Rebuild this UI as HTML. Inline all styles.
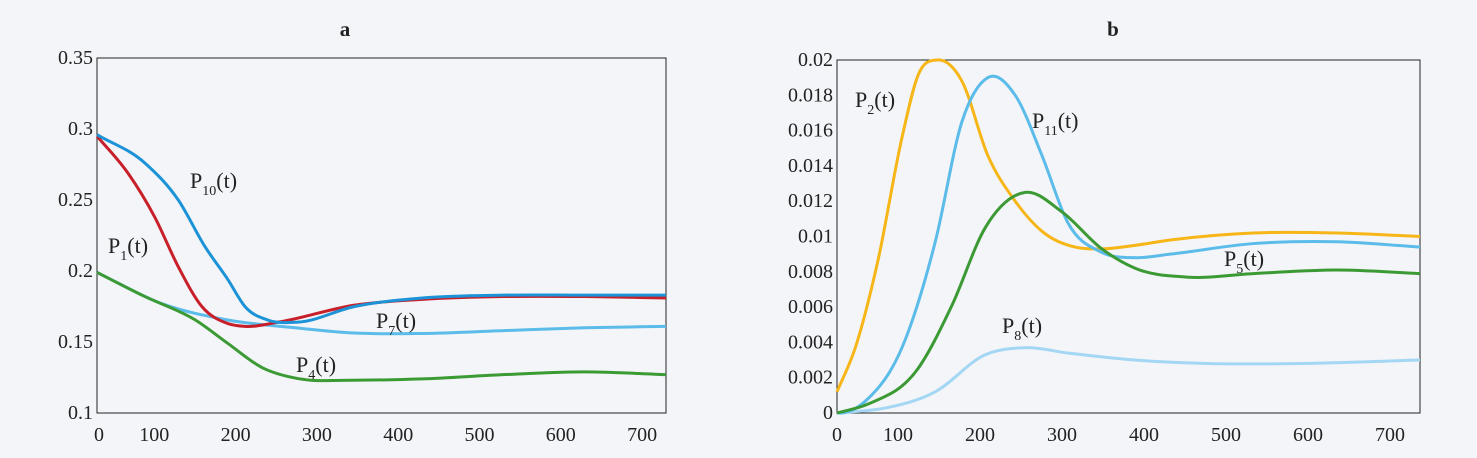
<!DOCTYPE html>
<html><head><meta charset="utf-8"><style>
body{margin:0;background:#f4f5f9;}
svg{display:block;font-family:"Liberation Serif",serif;}
</style></head><body>
<svg width="1477" height="458" id="fig">
<rect width="1477" height="458" fill="#f4f5f9"/>
</svg>
<script>
const xTicks=[0,100,200,300,400,500,600,700];
const yTicksA=[0.1,0.15,0.2,0.25,0.3,0.35];
const yLabelsA=["0.1","0.15","0.2","0.25","0.3","0.35"];
const yTicksB=[0,0.002,0.004,0.006,0.008,0.01,0.012,0.014,0.016,0.018,0.02];
const yLabelsB=["0","0.002","0.004","0.006","0.008","0.01","0.012","0.014","0.016","0.018","0.02"];
const p1T=[0,38,71,100,129,161,182,223,317,400,500,600,700];
const p1V=[0.295,0.269,0.238,0.203,0.175,0.163,0.161,0.164,0.176,0.18,0.182,0.182,0.181];
const p10T=[0,59,100,133,161,182,210,247,317,400,500,600,700];
const p10V=[0.296,0.276,0.25,0.217,0.194,0.175,0.1655,0.164,0.175,0.181,0.183,0.183,0.183];
const p7T=[0,80,161,244,317,400,500,600,700];
const p7V=[0.199,0.177,0.1655,0.16,0.1563,0.156,0.158,0.16,0.161];
const p4T=[0,59,121,161,203,244,265,300,400,500,600,700];
const p4V=[0.199,0.182,0.1655,0.149,0.132,0.1246,0.123,0.123,0.124,0.127,0.129,0.127];
const p2T=[0,22,49,78,97,120,150,181,214,246,286,318,358,400,500,600,700];
const p2V=[0.0012,0.0037,0.0086,0.0156,0.0191,0.02,0.0188,0.0146,0.012,0.0103,0.0094,0.0093,0.0095,0.0098,0.0102,0.0102,0.01];
const p11T=[0,6,37,78,118,150,181,214,246,277,318,358,400,500,600,700];
const p11V=[0,0,0.0008,0.0037,0.0097,0.0165,0.019,0.018,0.0146,0.0108,0.0091,0.0088,0.009,0.0096,0.0097,0.0094];
const p5T=[0,37,97,138,178,226,270,318,358,420,500,600,700];
const p5V=[0,0.0005,0.0025,0.0061,0.0105,0.0125,0.0114,0.0093,0.0082,0.0077,0.0079,0.0081,0.0079];
const p8T=[0,60,118,178,226,277,358,450,550,700];
const p8V=[0,0.0003,0.0012,0.0033,0.0037,0.0034,0.003,0.0028,0.0028,0.003];

const NS="http://www.w3.org/2000/svg";
const svg=document.getElementById('fig');
function mk(tag,attrs,parent){const e=document.createElementNS(NS,tag);for(const k in attrs)e.setAttribute(k,attrs[k]);(parent||svg).appendChild(e);return e;}
function smoothPath(p){
  const n=p.length,d=[],h=[],m=[];
  for(let i=0;i<n-1;i++){h.push(p[i+1][0]-p[i][0]);d.push((p[i+1][1]-p[i][1])/h[i]);}
  m[0]=d[0];m[n-1]=d[n-2];
  for(let i=1;i<n-1;i++){m[i]=(d[i-1]*h[i]+d[i]*h[i-1])/(h[i-1]+h[i]);}
  let s=`M${p[0][0]},${p[0][1]}`;
  for(let i=0;i<n-1;i++){const k=h[i]/3;s+=`C${p[i][0]+k},${p[i][1]+m[i]*k} ${p[i+1][0]-k},${p[i+1][1]-m[i+1]*k} ${p[i+1][0]},${p[i+1][1]}`;}
  return s;
}
function panel(name,x0,x1,y0,y1,ymin,ymax,yt,yl,series,labels,title,tx,lab0,labStep,labZero){
  const sx=t=>x0+(x1-x0)*t/700, sy=v=>y0-(y0-y1)*(v-ymin)/(ymax-ymin);
  const g=mk('g',{});
  
  
  const box=mk('rect',{x:x0,y:y1,width:x1-x0,height:y0-y1,fill:'#f4f5f9',stroke:'#222','stroke-width':1},g);
  
  
  xTicks.forEach(t=>{const lx=t===0?labZero:lab0+labStep*t/100;const e=mk('text',{x:lx,y:y0+28,'text-anchor':'middle','font-size':20,fill:'#222'},g);e.textContent=t;
    
    });
  yt.forEach((v,i)=>{const e=mk('text',{x:x0-4,y:sy(v)+6,'text-anchor':'end','font-size':20,fill:'#222'},g);e.textContent=yl[i];
    
    });
  series.forEach(s=>{const p=mk('path',{d:smoothPath(s.t.map((t,i)=>[sx(t),sy(s.v[i])])),fill:'none',stroke:s.c,'stroke-width':3,'stroke-linejoin':'round'},g);
    
    });
  labels.forEach(l=>{const e=mk('text',{x:l[0],y:l[1],'font-size':22,fill:'#222'},g);
    e.innerHTML=`P<tspan font-size="14" dy="7">${l[2]}</tspan><tspan dy="-7">(t)</tspan>`;
    
    });
  const tt=mk('text',{x:tx,y:36,'text-anchor':'middle','font-size':21,'font-weight':'bold',fill:'#222'},g);tt.textContent=title;
  
  
}
panel('panel-a',97,666,413,58,0.1,0.35,yTicksA,yLabelsA,[
 {t:p7T,v:p7V,c:'#5bbcea',n:'line-p7'},{t:p4T,v:p4V,c:'#3c9a35',n:'line-p4'},
 {t:p1T,v:p1V,c:'#c8202a',n:'line-p1'},{t:p10T,v:p10V,c:'#1c93d6',n:'line-p10'}],
 [[190,188,'10'],[108,253,'1'],[376,328,'7'],[296,372,'4']],'a',345,73,81.3,99);
panel('panel-b',837,1420,413,60,0,0.02,yTicksB,yLabelsB,[
 {t:p8T,v:p8V,c:'#a3d7f3',n:'line-p8'},{t:p2T,v:p2V,c:'#f7b618',n:'line-p2'},
 {t:p11T,v:p11V,c:'#5bbcea',n:'line-p11'},{t:p5T,v:p5V,c:'#3c9a35',n:'line-p5'}],
 [[855,107,'2'],[1032,128,'11'],[1224,266,'5'],[1002,333,'8']],'b',1113,816,82,837);
</script>
</body></html>
